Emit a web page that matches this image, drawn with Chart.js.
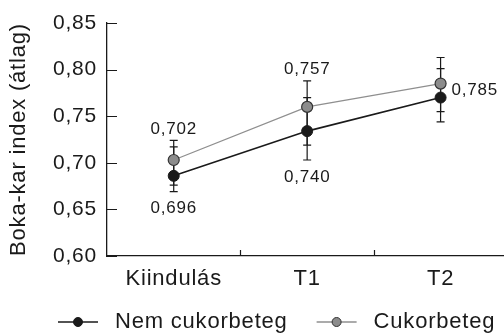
<!DOCTYPE html>
<html>
<head>
<meta charset="utf-8">
<script src="https://cdn.jsdelivr.net/npm/chart.js@4.4.1/dist/chart.umd.min.js"></script>
<style>
  html, body { margin: 0; padding: 0; background: #fff; overflow: hidden; }
  #wrap { width: 514px; height: 334px; }
</style>
</head>
<body>
<div id="wrap"><canvas id="chart" width="514" height="334"></canvas></div>
<script>
// Data.
const categories = ['Kiindulás', 'T1', 'T2'];
const seriesNames = ['Nem cukorbeteg', 'Cukorbeteg'];
const nemValues = [0.686, 0.734, 0.770];
const nemLow = [0.669, 0.703, 0.744];
const nemHigh = [0.717, 0.770, 0.801];
const cukorValues = [0.703, 0.760, 0.785];
const cukorLow = [0.676, 0.719, 0.755];
const cukorHigh = [0.724, 0.788, 0.813];
const nemLabels = ['0,696', '0,740', ''];
const cukorLabels = ['0,702', '0,757', '0,785'];
const yTickLabels = ['0,60', '0,65', '0,70', '0,75', '0,80', '0,85'];
const yTitle = 'Boka-kar index (átlag)';

// Where each value label sits relative to its point.
const nemLabelPos = ['below', 'below', 'none'];
const cukorLabelPos = ['above', 'above', 'right'];

const FONT = '"Liberation Sans", Arial, Helvetica, sans-serif';
const INK = '#1a1a1a';
const GREY_LINE = '#8f8f8f';
const GREY_FILL = '#8c8c8c';
const SPACING = '0.8px';

// Error bars, inner ticks, value labels and legend.
const extras = {
  id: 'extras',
  beforeUpdate(chart) {
    // The original type is a bit wider than Arial.
    chart.ctx.letterSpacing = SPACING;
  },
  beforeDraw(chart) {
    chart.ctx.letterSpacing = SPACING;
  },
  beforeDatasetsDraw(chart) {
    const ctx = chart.ctx;
    const x = chart.scales.x;
    const y = chart.scales.y;
    ctx.save();
    ctx.strokeStyle = INK;
    ctx.lineWidth = 1.2;
    [[nemLow, nemHigh], [cukorLow, cukorHigh]].forEach(([lo, hi]) => {
      lo.forEach((v, i) => {
        const px = x.getPixelForValue(i);
        const y1 = y.getPixelForValue(v);
        const y2 = y.getPixelForValue(hi[i]);
        ctx.beginPath();
        ctx.moveTo(px, y1); ctx.lineTo(px, y2);
        ctx.moveTo(px - 4, y1); ctx.lineTo(px + 4, y1);
        ctx.moveTo(px - 4, y2); ctx.lineTo(px + 4, y2);
        ctx.stroke();
      });
    });

    // Inner ticks on both axes.
    const area = chart.chartArea;
    ctx.lineWidth = 1.2;
    ctx.beginPath();
    y.ticks.forEach(t => {
      const py = Math.round(y.getPixelForValue(t.value)) + 0.5;
      ctx.moveTo(area.left, py); ctx.lineTo(area.left + 10, py);
    });
    const step = x.getPixelForValue(1) - x.getPixelForValue(0);
    for (let i = 0; i < categories.length - 1; i++) {
      const px = Math.round(x.getPixelForValue(i) + step / 2) + 0.5;
      ctx.moveTo(px, area.bottom); ctx.lineTo(px, area.bottom - 6);
    }
    ctx.stroke();
    ctx.restore();
  },
  afterDatasetsDraw(chart) {
    const ctx = chart.ctx;
    const x = chart.scales.x;
    const y = chart.scales.y;
    ctx.save();
    ctx.fillStyle = INK;
    ctx.font = '17px ' + FONT;
    ctx.textBaseline = 'middle';
    cukorLabels.forEach((txt, i) => {
      const px = x.getPixelForValue(i);
      const pos = cukorLabelPos[i];
      if (pos === 'above') {
        ctx.textAlign = 'center';
        ctx.fillText(txt, px, y.getPixelForValue(Math.max(cukorHigh[i], nemHigh[i])) - 11);
      } else if (pos === 'right') {
        ctx.textAlign = 'left';
        const mid = (y.getPixelForValue(cukorValues[i]) + y.getPixelForValue(nemValues[i])) / 2;
        ctx.fillText(txt, px + 11, mid);
      }
    });
    nemLabels.forEach((txt, i) => {
      const px = x.getPixelForValue(i);
      if (nemLabelPos[i] === 'below') {
        ctx.textAlign = 'center';
        ctx.fillText(txt, px, y.getPixelForValue(Math.min(cukorLow[i], nemLow[i])) + 17);
      }
    });
    ctx.restore();
  },
  afterDraw(chart) {
    // Legend: line with a marker, then the series name.
    const ctx = chart.ctx;
    ctx.save();
    ctx.font = '22px ' + FONT;
    ctx.textBaseline = 'middle';
    ctx.textAlign = 'left';
    let lx = 58;
    const ly = 322;
    chart.data.datasets.forEach(ds => {
      ctx.strokeStyle = ds.borderColor;
      ctx.lineWidth = ds.borderWidth;
      ctx.beginPath();
      ctx.moveTo(lx, ly); ctx.lineTo(lx + 40, ly);
      ctx.stroke();
      ctx.beginPath();
      ctx.arc(lx + 20, ly, 4.5, 0, Math.PI * 2);
      ctx.fillStyle = ds.pointBackgroundColor;
      ctx.fill();
      ctx.strokeStyle = ds.pointBorderColor;
      ctx.lineWidth = 1;
      ctx.stroke();
      ctx.fillStyle = INK;
      ctx.fillText(ds.label, lx + 57, ly);
      lx += 57 + ctx.measureText(ds.label).width + 29;
    });
    ctx.restore();
  }
};

new Chart(document.getElementById('chart'), {
  type: 'line',
  data: {
    labels: categories,
    datasets: [
      {
        label: seriesNames[0],
        data: nemValues,
        borderColor: INK,
        borderWidth: 1.6,
        pointBackgroundColor: INK,
        pointBorderColor: INK,
        pointBorderWidth: 1,
        pointRadius: 5.5,
        tension: 0
      },
      {
        label: seriesNames[1],
        data: cukorValues,
        borderColor: GREY_LINE,
        borderWidth: 1.3,
        pointBackgroundColor: GREY_FILL,
        pointBorderColor: '#333',
        pointBorderWidth: 1.2,
        pointRadius: 5.5,
        tension: 0
      }
    ]
  },
  options: {
    responsive: false,
    animation: false,
    events: [],
    layout: { padding: { left: 0, right: 3, top: 23, bottom: 48 } },
    plugins: {
      legend: { display: false },
      tooltip: { enabled: false }
    },
    scales: {
      x: {
        offset: true,
        grid: { display: false, drawTicks: false },
        border: { display: true, color: INK, width: 1.3 },
        ticks: { color: INK, padding: 10, font: { family: FONT, size: 22 } },
        afterFit: s => { s.height = 30; }
      },
      y: {
        min: 0.6,
        max: 0.85,
        grid: { display: false, drawTicks: false },
        border: { display: true, color: INK, width: 1.3 },
        ticks: {
          stepSize: 0.05,
          color: INK,
          padding: 10,
          font: { family: FONT, size: 21 },
          callback: (v, i) => yTickLabels[i]
        },
        title: {
          display: true,
          text: yTitle,
          color: INK,
          padding: { top: 6, bottom: 0 },
          font: { family: FONT, size: 22 }
        },
        afterFit: s => { s.width = 107; }
      }
    }
  },
  plugins: [extras]
});
</script>
</body>
</html>
